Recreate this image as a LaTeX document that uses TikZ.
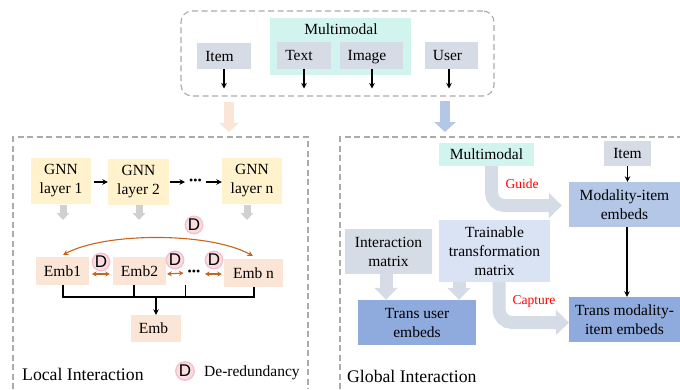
\documentclass[tikz,border=0pt]{standalone}
\usepackage{fontspec}
\setmainfont{Liberation Serif}
\newfontfamily\dfont{Liberation Sans}
\usetikzlibrary{arrows.meta,calc}
\definecolor{grayblue}{HTML}{D6DCE5}
\definecolor{teal}{HTML}{D2F4EF}
\definecolor{yel}{HTML}{FFF2CC}
\definecolor{peach}{HTML}{FBE5D6}
\definecolor{midblue}{HTML}{B4C7E7}
\definecolor{deepblue}{HTML}{8FAADC}
\definecolor{paleblue}{HTML}{DAE3F3}
\definecolor{dashc}{HTML}{ABABAB}
\definecolor{rust}{HTML}{C8651B}
\definecolor{pinkf}{HTML}{F9DDE0}
\definecolor{pinkd}{HTML}{F6BFCA}
\definecolor{lgray}{HTML}{D0D0D0}
\tikzset{
  tx/.style={font=\fontsize{15.5}{19}\selectfont,align=center,inner sep=0pt,text=black},
  dashbox/.style={draw=dashc,line width=1.1pt,dash pattern=on 6pt off 3.5pt},
  thin arrow/.style={draw=black,line width=1.1pt,-{Stealth[length=5.5pt,width=5.5pt]}},
  dbl arrow/.style={draw=rust,line width=1.1pt,{Stealth[length=4.5pt,width=5pt]}-{Stealth[length=4.5pt,width=5pt]}},
  dnode/.style={circle,draw=pinkd,line width=1.3pt,fill=pinkf,minimum size=17.5pt,inner sep=0pt,font=\dfont\fontsize{17}{17}\selectfont},
  dotsnode/.style={inner sep=0pt,font=\fontsize{12}{12}\selectfont},
  fat/.style={line width=13pt,draw=grayblue,-{Triangle[length=13pt,width=25pt,fill=grayblue]}},
  mid/.style={line width=7pt,draw=lgray,-{Triangle[length=7pt,width=12.5pt,fill=lgray]}},
  redlab/.style={text=red,inner sep=0pt,font=\fontsize{13.5}{16}\selectfont},
  bigtx/.style={inner sep=0pt,anchor=base west,font=\fontsize{17.7}{20}\selectfont,text=black},
}
% name, x1, y1, x2, y2, fill, text
\newcommand{\bx}[7]{\node[tx,fill=#6,minimum width={(#4-#2)*1pt},minimum height={(#5-#3)*1pt}] (#1) at ({(#2+#4)/2},{(#3+#5)/2}) {#7};}
\newcommand{\one}[1]{\rule{0pt}{10.3pt}\smash{#1}}
\begin{document}
\begin{tikzpicture}[x=1pt,y=-1pt]
\useasboundingbox (0,0) rectangle (680,389);
% containers
\node[dashbox,rounded corners=11pt,minimum width=313pt,minimum height=85pt,inner sep=0pt] (top) at (337.5,53.5) {};
\draw[dashbox] (13,389) -- (13,137) -- (308,137) -- (308,389);
\draw[dashbox] (340,389) -- (340,137) -- (680,137);
\coordinate (localtop) at (229,132);
\coordinate (globaltop) at (445,132);
% top block
\bx{mmtop}{270}{18}{411}{75}{teal}{}
\node[tx] (mmlabel) at (341,29) {\one{Multimodal}};
\bx{itemtop}{197}{43}{251}{69}{grayblue}{\kern-9pt \one{Item}}
\bx{text}{277}{42}{331}{69}{grayblue}{\kern-10pt \one{Text}}
\bx{image}{340}{42}{403}{69}{grayblue}{\kern-9pt \one{Image}}
\bx{user}{425}{42}{478}{69}{grayblue}{\kern-8pt \one{User}}
\coordinate (a1) at (224,88.5);
\coordinate (a2) at (304,88.5);
\coordinate (a3) at (372,88.5);
\coordinate (a4) at (449,88.5);
\draw[thin arrow] (itemtop.south -| a1) -- (a1);
\draw[thin arrow] (text.south -| a2) -- (a2);
\draw[thin arrow] (image.south -| a3) -- (a3);
\draw[thin arrow] (user.south -| a4) -- (a4);
% big down arrows
\draw[line width=10pt,draw=peach,-{Triangle[length=9pt,width=19pt,fill=peach]}] (top.south -| localtop) ++(0,5) -- (localtop);
\draw[line width=10pt,draw=midblue,-{Triangle[length=10pt,width=21pt,fill=midblue]}] (top.south -| globaltop) ++(0,4) -- (globaltop);
% local
\bx{g1}{31}{158}{91}{204}{yel}{GNN\\layer 1}
\bx{g2}{108}{159}{169}{205}{yel}{GNN\\layer 2}
\bx{gn}{222}{158}{282}{204}{yel}{GNN\\layer n}
\node[dotsnode] (gdots) at (195.5,182) {•••};
\coordinate (gy) at (0,182);
\draw[thin arrow] ([xshift=3pt]g1.east |- gy) -- (g2.west |- gy);
\draw[thin arrow] ([xshift=1pt]g2.east |- gy) -- ([xshift=-4pt]gdots.west);
\draw[thin arrow] ([xshift=4pt]gdots.east) -- (gn.west |- gy);
\coordinate (m1) at (63,220);
\coordinate (m2) at (139,220);
\coordinate (m3) at (247,220);
\draw[mid] (g1.south -| m1) ++(0,1) -- (m1);
\draw[mid] (g2.south -| m2) -- (m2);
\draw[mid] (gn.south -| m3) ++(0,1) -- (m3);
\bx{e1}{36}{257}{89}{285}{peach}{Emb1}
\bx{e2}{113}{257}{166}{285}{peach}{Emb2}
\bx{en}{224}{259}{283}{287}{peach}{Emb n}
\bx{emb}{131}{315}{181}{342}{peach}{\kern-5pt Emb}
\node[dnode] (d0) at (194,225) {D};
\node[dnode] (d1) at (101,262) {D};
\node[dnode] (d2) at (175,260) {D};
\node[dnode] (d3) at (214,260) {D};
\coordinate (c1) at (63,255);
\coordinate (c2) at (253,256);
\draw[draw=rust,line width=1.1pt,{Stealth[length=5.5pt,width=5.5pt]}-{Stealth[length=5.5pt,width=5.5pt]}] (c1) .. controls (105,232) and (210,232) .. (c2);
\node[dotsnode] (edots) at (194,273) {•••};
\coordinate (ey) at (0,274);
\coordinate (ex) at (92,274);
\coordinate (fx) at (205,274);
\draw[dbl arrow] (ex) -- ([xshift=-3pt]e2.west |- ey);
\draw[dbl arrow] ([xshift=1pt]e2.east |- ey) -- ([xshift=-4pt]edots.west);
\draw[dbl arrow] (fx) -- ([xshift=-2pt]en.west |- ey);
\coordinate (b1) at (63,297);
\coordinate (b2) at (134,297);
\coordinate (b3) at (185.5,297);
\coordinate (b4) at (254,297);
\coordinate (b5) at (156,297);
\draw[line width=1.1pt,draw=black] (e1.south -| b1) -- (b1) -- (b4) -- (en.south -| b4);
\draw[line width=1.1pt,draw=black] (e2.south -| b2) -- (b2);
\draw[line width=1.1pt,draw=black] (e2.south -| b3) -- (b3);
\draw[thin arrow] (b5) -- (emb.north);
\node[bigtx] (localt) at (22,380) {Local Interaction};
\node[dnode,minimum size=18.5pt] (dlegend) at (185,371) {D};
\node[inner sep=0pt,anchor=west,tx] (dtext) at (204,371) {\one{De-redundancy}};
% global
\bx{mm}{439}{143}{534}{166}{teal}{\one{Multimodal}}
\bx{item}{604}{141}{651}{166}{grayblue}{Item}
\bx{modal}{569}{182}{680}{227}{midblue}{Modality-item\\embeds}
\bx{trans}{569}{297}{680}{342}{deepblue}{Trans modality-\\item embeds}
\bx{inter}{345}{229}{432}{274}{grayblue}{Interaction\\matrix}
\bx{train}{439}{220}{550}{282}{paleblue}{Trainable\\transformation\\matrix}
\bx{tuser}{358}{300}{476}{345}{deepblue}{Trans user\\embeds}
\draw[thin arrow] (item.south) -- (modal.north -| item.south);
\coordinate (v) at (627,0);
\draw[thin arrow] (modal.south -| v) -- (trans.north -| v);
\draw[fat,rounded corners=13pt,shorten >=7pt] ([xshift=5pt]mm.south) |- ([yshift=-1pt]modal.west);
\draw[fat,rounded corners=13pt] ([xshift=4.5pt]train.south) |- ([yshift=-3pt]trans.west);
\coordinate (u1) at (386,0);
\coordinate (u2) at (459,0);
\draw[fat,-{Triangle[length=12pt,width=23pt,fill=grayblue]}] (inter.south -| u1) -- (tuser.north -| u1);
\draw[fat,-{Triangle[length=12pt,width=23pt,fill=grayblue]}] (train.south -| u2) -- (tuser.north -| u2);
\node[redlab] (guide) at (522,184) {Guide};
\node[redlab] (capture) at (534,301) {Capture};
\node[bigtx] (globalt) at (347,382) {Global Interaction};
\end{tikzpicture}
\end{document}
